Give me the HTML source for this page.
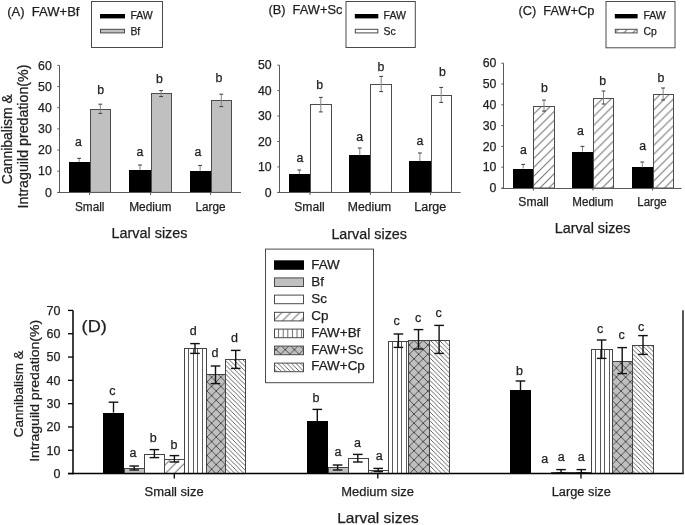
<!DOCTYPE html>
<html><head><meta charset="utf-8"><style>
html,body{margin:0;padding:0;background:#fff;}
svg{display:block;will-change:transform;}
text{font-family:"Liberation Sans", sans-serif;stroke:#1e1e1e;stroke-width:0.25px;}
</style></head><body>
<svg width="685" height="525" viewBox="0 0 685 525">
<rect width="685" height="525" fill="#fff"/>

<defs>
<pattern id="cp" patternUnits="userSpaceOnUse" width="8.9" height="8.9" x="7.0">
 <path d="M-1,1 L1,-1 M0,8.9 L8.9,0 M7.9,9.9 L9.9,7.9" stroke="#6e6e6e" stroke-width="1"/>
</pattern>
<pattern id="fcp" patternUnits="userSpaceOnUse" width="4.5" height="4.5">
 <path d="M-1,3.5 L1,5.5 M0,0 L4.5,4.5 M3.5,-1 L5.5,1" stroke="#404040" stroke-width="0.8"/>
</pattern>
<pattern id="fbf" patternUnits="userSpaceOnUse" width="4.6" height="10" x="0.3">
 <rect x="0" y="0" width="4.6" height="10" fill="#fff"/>
 <line x1="2.3" y1="0" x2="2.3" y2="10" stroke="#6a6a6a" stroke-width="1"/>
</pattern>
<pattern id="fsc" patternUnits="userSpaceOnUse" width="9.2" height="9.2">
 <rect x="0" y="0" width="9.2" height="9.2" fill="#c0c0c0"/>
 <path d="M0,0 L9.2,9.2 M0,9.2 L9.2,0" stroke="#303030" stroke-width="0.8"/>
</pattern>
</defs>

<rect x="69.00" y="162.00" width="21.00" height="30.40" fill="#000"/>
<rect x="90.50" y="109.50" width="20.00" height="82.90" fill="#c0c0c0" stroke="#4c4c4c" stroke-width="1"/>
<rect x="129.00" y="170.00" width="22.00" height="22.40" fill="#000"/>
<rect x="151.50" y="93.50" width="20.00" height="98.90" fill="#c0c0c0" stroke="#4c4c4c" stroke-width="1"/>
<rect x="190.00" y="171.00" width="21.00" height="21.40" fill="#000"/>
<rect x="211.50" y="100.50" width="20.00" height="91.90" fill="#c0c0c0" stroke="#4c4c4c" stroke-width="1"/>
<line x1="79.1" y1="158.3" x2="79.1" y2="162" stroke="#858585" stroke-width="1"/>
<line x1="77.19999999999999" y1="158.3" x2="81.0" y2="158.3" stroke="#3a3a3a" stroke-width="1"/>
<line x1="100.3" y1="104.2" x2="100.3" y2="113.4" stroke="#858585" stroke-width="1"/>
<line x1="98.39999999999999" y1="104.2" x2="102.2" y2="104.2" stroke="#3a3a3a" stroke-width="1"/>
<line x1="98.39999999999999" y1="113.4" x2="102.2" y2="113.4" stroke="#3a3a3a" stroke-width="1"/>
<line x1="140" y1="165" x2="140" y2="170" stroke="#858585" stroke-width="1"/>
<line x1="138.1" y1="165" x2="141.9" y2="165" stroke="#3a3a3a" stroke-width="1"/>
<line x1="161.1" y1="90.6" x2="161.1" y2="96.6" stroke="#858585" stroke-width="1"/>
<line x1="159.2" y1="90.6" x2="163.0" y2="90.6" stroke="#3a3a3a" stroke-width="1"/>
<line x1="159.2" y1="96.6" x2="163.0" y2="96.6" stroke="#3a3a3a" stroke-width="1"/>
<line x1="200.1" y1="165.4" x2="200.1" y2="171" stroke="#858585" stroke-width="1"/>
<line x1="198.2" y1="165.4" x2="202.0" y2="165.4" stroke="#3a3a3a" stroke-width="1"/>
<line x1="221.3" y1="94.2" x2="221.3" y2="106.6" stroke="#858585" stroke-width="1"/>
<line x1="219.4" y1="94.2" x2="223.20000000000002" y2="94.2" stroke="#3a3a3a" stroke-width="1"/>
<line x1="219.4" y1="106.6" x2="223.20000000000002" y2="106.6" stroke="#3a3a3a" stroke-width="1"/>
<line x1="59.5" y1="65.38000000000001" x2="59.5" y2="192.5" stroke="#5a5a5a" stroke-width="1"/>
<line x1="57.5" y1="192.5" x2="241" y2="192.5" stroke="#5a5a5a" stroke-width="1"/>
<line x1="57.3" y1="192.4" x2="59.5" y2="192.4" stroke="#5a5a5a" stroke-width="1"/>
<text x="51.8" y="196.6" font-size="12.3" text-anchor="end" fill="#1e1e1e">0</text>
<line x1="57.3" y1="171.23000000000002" x2="59.5" y2="171.23000000000002" stroke="#5a5a5a" stroke-width="1"/>
<text x="51.8" y="175.43" font-size="12.3" text-anchor="end" fill="#1e1e1e">10</text>
<line x1="57.3" y1="150.06" x2="59.5" y2="150.06" stroke="#5a5a5a" stroke-width="1"/>
<text x="51.8" y="154.26" font-size="12.3" text-anchor="end" fill="#1e1e1e">20</text>
<line x1="57.3" y1="128.89000000000001" x2="59.5" y2="128.89000000000001" stroke="#5a5a5a" stroke-width="1"/>
<text x="51.8" y="133.09" font-size="12.3" text-anchor="end" fill="#1e1e1e">30</text>
<line x1="57.3" y1="107.72" x2="59.5" y2="107.72" stroke="#5a5a5a" stroke-width="1"/>
<text x="51.8" y="111.92" font-size="12.3" text-anchor="end" fill="#1e1e1e">40</text>
<line x1="57.3" y1="86.55000000000001" x2="59.5" y2="86.55000000000001" stroke="#5a5a5a" stroke-width="1"/>
<text x="51.8" y="90.75000000000001" font-size="12.3" text-anchor="end" fill="#1e1e1e">50</text>
<line x1="57.3" y1="65.38000000000001" x2="59.5" y2="65.38000000000001" stroke="#5a5a5a" stroke-width="1"/>
<text x="51.8" y="69.58000000000001" font-size="12.3" text-anchor="end" fill="#1e1e1e">60</text>
<line x1="89.6" y1="192.4" x2="89.6" y2="195.0" stroke="#5a5a5a" stroke-width="1"/>
<line x1="150.6" y1="192.4" x2="150.6" y2="195.0" stroke="#5a5a5a" stroke-width="1"/>
<line x1="210.6" y1="192.4" x2="210.6" y2="195.0" stroke="#5a5a5a" stroke-width="1"/>
<text x="75" y="211" font-size="12" textLength="29.5" lengthAdjust="spacingAndGlyphs" fill="#1e1e1e">Small</text>
<text x="129.2" y="211" font-size="12" textLength="42.30000000000001" lengthAdjust="spacingAndGlyphs" fill="#1e1e1e">Medium</text>
<text x="195.4" y="211" font-size="12" textLength="30.099999999999994" lengthAdjust="spacingAndGlyphs" fill="#1e1e1e">Large</text>
<text x="111.5" y="238" font-size="14" textLength="76.0" lengthAdjust="spacingAndGlyphs" fill="#1e1e1e">Larval sizes</text>
<text x="78.3" y="146" font-size="12.3" text-anchor="middle" fill="#1e1e1e">a</text>
<text x="100.7" y="93.5" font-size="12.3" text-anchor="middle" fill="#1e1e1e">b</text>
<text x="139.8" y="156.4" font-size="12.3" text-anchor="middle" fill="#1e1e1e">a</text>
<text x="159.5" y="82.6" font-size="12.3" text-anchor="middle" fill="#1e1e1e">b</text>
<text x="197.8" y="156.4" font-size="12.3" text-anchor="middle" fill="#1e1e1e">a</text>
<text x="219" y="82" font-size="12.3" text-anchor="middle" fill="#1e1e1e">b</text>
<text x="7.2" y="15.6" font-size="13" textLength="72.3" lengthAdjust="spacingAndGlyphs" fill="#1e1e1e">(A)&#160; FAW+Bf</text>
<rect x="91.50" y="1.50" width="71.00" height="46.00" fill="none" stroke="#4a4a4a" stroke-width="1"/>
<rect x="100.00" y="14.00" width="25.00" height="4.40" fill="#000"/>
<rect x="100.50" y="29.30" width="24.00" height="3.60" fill="#c0c0c0" stroke="#4a4a4a" stroke-width="1"/>
<text x="130.4" y="19.1" font-size="10.4" textLength="22.4" lengthAdjust="spacingAndGlyphs" fill="#1e1e1e">FAW</text>
<text x="130.4" y="34.5" font-size="10.4" fill="#1e1e1e">Bf</text>
<rect x="289.00" y="174.00" width="21.00" height="18.40" fill="#000"/>
<rect x="310.50" y="104.50" width="21.00" height="87.90" fill="#fff" stroke="#4c4c4c" stroke-width="1"/>
<rect x="349.00" y="155.00" width="21.00" height="37.40" fill="#000"/>
<rect x="370.50" y="84.50" width="21.00" height="107.90" fill="#fff" stroke="#4c4c4c" stroke-width="1"/>
<rect x="409.00" y="161.00" width="22.00" height="31.40" fill="#000"/>
<rect x="431.50" y="95.50" width="20.00" height="96.90" fill="#fff" stroke="#4c4c4c" stroke-width="1"/>
<line x1="299.3" y1="170" x2="299.3" y2="174" stroke="#858585" stroke-width="1"/>
<line x1="297.40000000000003" y1="170" x2="301.2" y2="170" stroke="#3a3a3a" stroke-width="1"/>
<line x1="320.8" y1="97.4" x2="320.8" y2="111.9" stroke="#858585" stroke-width="1"/>
<line x1="318.90000000000003" y1="97.4" x2="322.7" y2="97.4" stroke="#3a3a3a" stroke-width="1"/>
<line x1="318.90000000000003" y1="111.9" x2="322.7" y2="111.9" stroke="#3a3a3a" stroke-width="1"/>
<line x1="359.8" y1="148" x2="359.8" y2="155.4" stroke="#858585" stroke-width="1"/>
<line x1="357.90000000000003" y1="148" x2="361.7" y2="148" stroke="#3a3a3a" stroke-width="1"/>
<line x1="381.2" y1="76.4" x2="381.2" y2="91.6" stroke="#858585" stroke-width="1"/>
<line x1="379.3" y1="76.4" x2="383.09999999999997" y2="76.4" stroke="#3a3a3a" stroke-width="1"/>
<line x1="379.3" y1="91.6" x2="383.09999999999997" y2="91.6" stroke="#3a3a3a" stroke-width="1"/>
<line x1="419.9" y1="153" x2="419.9" y2="161" stroke="#858585" stroke-width="1"/>
<line x1="418.0" y1="153" x2="421.79999999999995" y2="153" stroke="#3a3a3a" stroke-width="1"/>
<line x1="441.2" y1="87.4" x2="441.2" y2="102.4" stroke="#858585" stroke-width="1"/>
<line x1="439.3" y1="87.4" x2="443.09999999999997" y2="87.4" stroke="#3a3a3a" stroke-width="1"/>
<line x1="439.3" y1="102.4" x2="443.09999999999997" y2="102.4" stroke="#3a3a3a" stroke-width="1"/>
<line x1="279.5" y1="65.15" x2="279.5" y2="192.5" stroke="#5a5a5a" stroke-width="1"/>
<line x1="277.5" y1="192.5" x2="460.6" y2="192.5" stroke="#5a5a5a" stroke-width="1"/>
<line x1="277.3" y1="192.4" x2="279.5" y2="192.4" stroke="#5a5a5a" stroke-width="1"/>
<text x="271.6" y="196.6" font-size="12.3" text-anchor="end" fill="#1e1e1e">0</text>
<line x1="277.3" y1="166.95000000000002" x2="279.5" y2="166.95000000000002" stroke="#5a5a5a" stroke-width="1"/>
<text x="271.6" y="171.15" font-size="12.3" text-anchor="end" fill="#1e1e1e">10</text>
<line x1="277.3" y1="141.5" x2="279.5" y2="141.5" stroke="#5a5a5a" stroke-width="1"/>
<text x="271.6" y="145.7" font-size="12.3" text-anchor="end" fill="#1e1e1e">20</text>
<line x1="277.3" y1="116.05000000000001" x2="279.5" y2="116.05000000000001" stroke="#5a5a5a" stroke-width="1"/>
<text x="271.6" y="120.25000000000001" font-size="12.3" text-anchor="end" fill="#1e1e1e">30</text>
<line x1="277.3" y1="90.60000000000001" x2="279.5" y2="90.60000000000001" stroke="#5a5a5a" stroke-width="1"/>
<text x="271.6" y="94.80000000000001" font-size="12.3" text-anchor="end" fill="#1e1e1e">40</text>
<line x1="277.3" y1="65.15" x2="279.5" y2="65.15" stroke="#5a5a5a" stroke-width="1"/>
<text x="271.6" y="69.35000000000001" font-size="12.3" text-anchor="end" fill="#1e1e1e">50</text>
<line x1="310" y1="192.4" x2="310" y2="195.0" stroke="#5a5a5a" stroke-width="1"/>
<line x1="370.4" y1="192.4" x2="370.4" y2="195.0" stroke="#5a5a5a" stroke-width="1"/>
<line x1="430.6" y1="192.4" x2="430.6" y2="195.0" stroke="#5a5a5a" stroke-width="1"/>
<text x="294.2" y="211.4" font-size="12" textLength="30.400000000000034" lengthAdjust="spacingAndGlyphs" fill="#1e1e1e">Small</text>
<text x="347.8" y="211.4" font-size="12" textLength="43.39999999999998" lengthAdjust="spacingAndGlyphs" fill="#1e1e1e">Medium</text>
<text x="414.3" y="211.4" font-size="12" textLength="32.0" lengthAdjust="spacingAndGlyphs" fill="#1e1e1e">Large</text>
<text x="331.4" y="238.6" font-size="14" textLength="75.60000000000002" lengthAdjust="spacingAndGlyphs" fill="#1e1e1e">Larval sizes</text>
<text x="299.8" y="162" font-size="12.3" text-anchor="middle" fill="#1e1e1e">a</text>
<text x="319.6" y="89.4" font-size="12.3" text-anchor="middle" fill="#1e1e1e">b</text>
<text x="359.7" y="140.6" font-size="12.3" text-anchor="middle" fill="#1e1e1e">a</text>
<text x="381" y="71" font-size="12.3" text-anchor="middle" fill="#1e1e1e">b</text>
<text x="420" y="145" font-size="12.3" text-anchor="middle" fill="#1e1e1e">a</text>
<text x="442.4" y="75.6" font-size="12.3" text-anchor="middle" fill="#1e1e1e">b</text>
<text x="268.4" y="13.8" font-size="13" textLength="74.0" lengthAdjust="spacingAndGlyphs" fill="#1e1e1e">(B)&#160; FAW+Sc</text>
<rect x="346.00" y="1.50" width="69.30" height="46.00" fill="none" stroke="#4a4a4a" stroke-width="1"/>
<rect x="354.80" y="14.00" width="23.50" height="4.40" fill="#000"/>
<rect x="355.30" y="29.30" width="22.50" height="3.60" fill="#fff" stroke="#4a4a4a" stroke-width="1"/>
<text x="383.6" y="18.8" font-size="10.4" textLength="22.4" lengthAdjust="spacingAndGlyphs" fill="#1e1e1e">FAW</text>
<text x="383.6" y="34.5" font-size="10.4" fill="#1e1e1e">Sc</text>
<rect x="513.00" y="169.00" width="20.00" height="19.00" fill="#000"/>
<rect x="533.50" y="106.50" width="21.00" height="81.50" fill="url(#cp)" stroke="#4c4c4c" stroke-width="1"/>
<rect x="572.00" y="152.00" width="21.00" height="36.00" fill="#000"/>
<rect x="593.50" y="98.50" width="20.00" height="89.50" fill="url(#cp)" stroke="#4c4c4c" stroke-width="1"/>
<rect x="632.00" y="167.00" width="21.00" height="21.00" fill="#000"/>
<rect x="653.50" y="94.50" width="20.00" height="93.50" fill="url(#cp)" stroke="#4c4c4c" stroke-width="1"/>
<line x1="523.2" y1="164.4" x2="523.2" y2="168.6" stroke="#858585" stroke-width="1"/>
<line x1="521.3000000000001" y1="164.4" x2="525.1" y2="164.4" stroke="#3a3a3a" stroke-width="1"/>
<line x1="544" y1="100.1" x2="544" y2="111.1" stroke="#858585" stroke-width="1"/>
<line x1="542.1" y1="100.1" x2="545.9" y2="100.1" stroke="#3a3a3a" stroke-width="1"/>
<line x1="542.1" y1="111.1" x2="545.9" y2="111.1" stroke="#3a3a3a" stroke-width="1"/>
<line x1="582.5" y1="146.4" x2="582.5" y2="151.6" stroke="#858585" stroke-width="1"/>
<line x1="580.6" y1="146.4" x2="584.4" y2="146.4" stroke="#3a3a3a" stroke-width="1"/>
<line x1="603.5" y1="91" x2="603.5" y2="104" stroke="#858585" stroke-width="1"/>
<line x1="601.6" y1="91" x2="605.4" y2="91" stroke="#3a3a3a" stroke-width="1"/>
<line x1="601.6" y1="104" x2="605.4" y2="104" stroke="#3a3a3a" stroke-width="1"/>
<line x1="642.3" y1="162" x2="642.3" y2="167.4" stroke="#858585" stroke-width="1"/>
<line x1="640.4" y1="162" x2="644.1999999999999" y2="162" stroke="#3a3a3a" stroke-width="1"/>
<line x1="663.1" y1="88" x2="663.1" y2="100" stroke="#858585" stroke-width="1"/>
<line x1="661.2" y1="88" x2="665.0" y2="88" stroke="#3a3a3a" stroke-width="1"/>
<line x1="661.2" y1="100" x2="665.0" y2="100" stroke="#3a3a3a" stroke-width="1"/>
<line x1="503.5" y1="63.19999999999999" x2="503.5" y2="188.5" stroke="#5a5a5a" stroke-width="1"/>
<line x1="501.5" y1="188.5" x2="681.6" y2="188.5" stroke="#5a5a5a" stroke-width="1"/>
<line x1="501.3" y1="188.0" x2="503.5" y2="188.0" stroke="#5a5a5a" stroke-width="1"/>
<text x="496.4" y="192.2" font-size="12.3" text-anchor="end" fill="#1e1e1e">0</text>
<line x1="501.3" y1="167.2" x2="503.5" y2="167.2" stroke="#5a5a5a" stroke-width="1"/>
<text x="496.4" y="171.39999999999998" font-size="12.3" text-anchor="end" fill="#1e1e1e">10</text>
<line x1="501.3" y1="146.4" x2="503.5" y2="146.4" stroke="#5a5a5a" stroke-width="1"/>
<text x="496.4" y="150.6" font-size="12.3" text-anchor="end" fill="#1e1e1e">20</text>
<line x1="501.3" y1="125.6" x2="503.5" y2="125.6" stroke="#5a5a5a" stroke-width="1"/>
<text x="496.4" y="129.79999999999998" font-size="12.3" text-anchor="end" fill="#1e1e1e">30</text>
<line x1="501.3" y1="104.8" x2="503.5" y2="104.8" stroke="#5a5a5a" stroke-width="1"/>
<text x="496.4" y="109.0" font-size="12.3" text-anchor="end" fill="#1e1e1e">40</text>
<line x1="501.3" y1="84.0" x2="503.5" y2="84.0" stroke="#5a5a5a" stroke-width="1"/>
<text x="496.4" y="88.2" font-size="12.3" text-anchor="end" fill="#1e1e1e">50</text>
<line x1="501.3" y1="63.19999999999999" x2="503.5" y2="63.19999999999999" stroke="#5a5a5a" stroke-width="1"/>
<text x="496.4" y="67.39999999999999" font-size="12.3" text-anchor="end" fill="#1e1e1e">60</text>
<line x1="533.4" y1="188" x2="533.4" y2="190.6" stroke="#5a5a5a" stroke-width="1"/>
<line x1="593" y1="188" x2="593" y2="190.6" stroke="#5a5a5a" stroke-width="1"/>
<line x1="652.6" y1="188" x2="652.6" y2="190.6" stroke="#5a5a5a" stroke-width="1"/>
<text x="518.3" y="206.4" font-size="12" textLength="30.300000000000068" lengthAdjust="spacingAndGlyphs" fill="#1e1e1e">Small</text>
<text x="572.3" y="206.4" font-size="12" textLength="41.200000000000045" lengthAdjust="spacingAndGlyphs" fill="#1e1e1e">Medium</text>
<text x="637.3" y="206.4" font-size="12" textLength="29.40000000000009" lengthAdjust="spacingAndGlyphs" fill="#1e1e1e">Large</text>
<text x="554.8" y="232.6" font-size="14" textLength="75.70000000000005" lengthAdjust="spacingAndGlyphs" fill="#1e1e1e">Larval sizes</text>
<text x="523.5" y="153.6" font-size="12.3" text-anchor="middle" fill="#1e1e1e">a</text>
<text x="544.3" y="92" font-size="12.3" text-anchor="middle" fill="#1e1e1e">b</text>
<text x="580.4" y="134.6" font-size="12.3" text-anchor="middle" fill="#1e1e1e">a</text>
<text x="602.6" y="85" font-size="12.3" text-anchor="middle" fill="#1e1e1e">b</text>
<text x="642.7" y="150.4" font-size="12.3" text-anchor="middle" fill="#1e1e1e">a</text>
<text x="661" y="82" font-size="12.3" text-anchor="middle" fill="#1e1e1e">b</text>
<text x="518.4" y="15" font-size="13" textLength="76.0" lengthAdjust="spacingAndGlyphs" fill="#1e1e1e">(C)&#160; FAW+Cp</text>
<rect x="606.00" y="1.50" width="69.00" height="46.30" fill="none" stroke="#4a4a4a" stroke-width="1"/>
<rect x="614.80" y="14.00" width="22.80" height="4.40" fill="#000"/>
<rect x="615.30" y="29.30" width="21.80" height="3.60" fill="url(#cp)" stroke="#4a4a4a" stroke-width="1"/>
<text x="643.4" y="18.8" font-size="10.4" textLength="22.4" lengthAdjust="spacingAndGlyphs" fill="#1e1e1e">FAW</text>
<text x="643.4" y="34.5" font-size="10.4" fill="#1e1e1e">Cp</text>
<rect x="103.00" y="413.00" width="21.00" height="60.60" fill="#000"/>
<rect x="124.50" y="468.50" width="20.00" height="5.10" fill="#c0c0c0" stroke="#444" stroke-width="1"/>
<rect x="144.50" y="454.50" width="20.00" height="19.10" fill="#fff" stroke="#444" stroke-width="1"/>
<rect x="164.50" y="459.50" width="20.00" height="14.10" fill="url(#cp)" stroke="#444" stroke-width="1"/>
<rect x="184.50" y="348.50" width="22.00" height="125.10" fill="#fff" stroke="#444" stroke-width="1"/>
<line x1="188.5" y1="349" x2="188.5" y2="473.6" stroke="#5a5a5a" stroke-width="1"/>
<line x1="193.5" y1="349" x2="193.5" y2="473.6" stroke="#5a5a5a" stroke-width="1"/>
<line x1="197.5" y1="349" x2="197.5" y2="473.6" stroke="#5a5a5a" stroke-width="1"/>
<line x1="202.5" y1="349" x2="202.5" y2="473.6" stroke="#5a5a5a" stroke-width="1"/>
<rect x="206.50" y="374.50" width="19.00" height="99.10" fill="url(#fsc)" stroke="#444" stroke-width="1"/>
<rect x="225.50" y="359.50" width="20.00" height="114.10" fill="url(#fcp)" stroke="#444" stroke-width="1"/>
<rect x="307.00" y="421.00" width="21.00" height="52.60" fill="#000"/>
<rect x="328.50" y="467.50" width="20.00" height="6.10" fill="#c0c0c0" stroke="#444" stroke-width="1"/>
<rect x="348.50" y="458.50" width="20.00" height="15.10" fill="#fff" stroke="#444" stroke-width="1"/>
<rect x="368.50" y="470.50" width="20.00" height="3.10" fill="url(#cp)" stroke="#444" stroke-width="1"/>
<rect x="388.50" y="341.50" width="20.00" height="132.10" fill="#fff" stroke="#444" stroke-width="1"/>
<line x1="392.5" y1="342" x2="392.5" y2="473.6" stroke="#5a5a5a" stroke-width="1"/>
<line x1="397.5" y1="342" x2="397.5" y2="473.6" stroke="#5a5a5a" stroke-width="1"/>
<line x1="401.5" y1="342" x2="401.5" y2="473.6" stroke="#5a5a5a" stroke-width="1"/>
<line x1="406.5" y1="342" x2="406.5" y2="473.6" stroke="#5a5a5a" stroke-width="1"/>
<rect x="408.50" y="340.50" width="21.00" height="133.10" fill="url(#fsc)" stroke="#444" stroke-width="1"/>
<rect x="429.50" y="340.50" width="20.00" height="133.10" fill="url(#fcp)" stroke="#444" stroke-width="1"/>
<rect x="510.00" y="390.00" width="21.00" height="83.60" fill="#000"/>
<rect x="551.50" y="472.50" width="20.00" height="1.10" fill="#fff" stroke="#444" stroke-width="1"/>
<rect x="571.50" y="472.50" width="20.00" height="1.10" fill="url(#cp)" stroke="#444" stroke-width="1"/>
<rect x="591.50" y="349.50" width="21.00" height="124.10" fill="#fff" stroke="#444" stroke-width="1"/>
<line x1="595.5" y1="350" x2="595.5" y2="473.6" stroke="#5a5a5a" stroke-width="1"/>
<line x1="600.5" y1="350" x2="600.5" y2="473.6" stroke="#5a5a5a" stroke-width="1"/>
<line x1="604.5" y1="350" x2="604.5" y2="473.6" stroke="#5a5a5a" stroke-width="1"/>
<line x1="609.5" y1="350" x2="609.5" y2="473.6" stroke="#5a5a5a" stroke-width="1"/>
<rect x="612.50" y="361.50" width="20.00" height="112.10" fill="url(#fsc)" stroke="#444" stroke-width="1"/>
<rect x="632.50" y="345.50" width="21.00" height="128.10" fill="url(#fcp)" stroke="#444" stroke-width="1"/>
<line x1="113.5" y1="402.2" x2="113.5" y2="412.6" stroke="#111" stroke-width="1.4"/>
<line x1="108.7" y1="402.2" x2="118.3" y2="402.2" stroke="#111" stroke-width="1.4"/>
<line x1="134.2" y1="466" x2="134.2" y2="470" stroke="#111" stroke-width="1.4"/>
<line x1="129.39999999999998" y1="466" x2="139.0" y2="466" stroke="#111" stroke-width="1.4"/>
<line x1="129.39999999999998" y1="470" x2="139.0" y2="470" stroke="#111" stroke-width="1.4"/>
<line x1="154.4" y1="449.6" x2="154.4" y2="457.6" stroke="#111" stroke-width="1.4"/>
<line x1="149.6" y1="449.6" x2="159.20000000000002" y2="449.6" stroke="#111" stroke-width="1.4"/>
<line x1="149.6" y1="457.6" x2="159.20000000000002" y2="457.6" stroke="#111" stroke-width="1.4"/>
<line x1="174.4" y1="455.6" x2="174.4" y2="462" stroke="#111" stroke-width="1.4"/>
<line x1="169.6" y1="455.6" x2="179.20000000000002" y2="455.6" stroke="#111" stroke-width="1.4"/>
<line x1="169.6" y1="462" x2="179.20000000000002" y2="462" stroke="#111" stroke-width="1.4"/>
<line x1="195.0" y1="343.6" x2="195.0" y2="353.4" stroke="#111" stroke-width="1.4"/>
<line x1="190.2" y1="343.6" x2="199.8" y2="343.6" stroke="#111" stroke-width="1.4"/>
<line x1="190.2" y1="353.4" x2="199.8" y2="353.4" stroke="#111" stroke-width="1.4"/>
<line x1="215.5" y1="366" x2="215.5" y2="383.6" stroke="#111" stroke-width="1.4"/>
<line x1="210.7" y1="366" x2="220.3" y2="366" stroke="#111" stroke-width="1.4"/>
<line x1="210.7" y1="383.6" x2="220.3" y2="383.6" stroke="#111" stroke-width="1.4"/>
<line x1="235.7" y1="350.4" x2="235.7" y2="368.4" stroke="#111" stroke-width="1.4"/>
<line x1="230.89999999999998" y1="350.4" x2="240.5" y2="350.4" stroke="#111" stroke-width="1.4"/>
<line x1="230.89999999999998" y1="368.4" x2="240.5" y2="368.4" stroke="#111" stroke-width="1.4"/>
<line x1="317.3" y1="409.4" x2="317.3" y2="421" stroke="#111" stroke-width="1.4"/>
<line x1="312.5" y1="409.4" x2="322.1" y2="409.4" stroke="#111" stroke-width="1.4"/>
<line x1="337.6" y1="465" x2="337.6" y2="470" stroke="#111" stroke-width="1.4"/>
<line x1="332.8" y1="465" x2="342.40000000000003" y2="465" stroke="#111" stroke-width="1.4"/>
<line x1="332.8" y1="470" x2="342.40000000000003" y2="470" stroke="#111" stroke-width="1.4"/>
<line x1="357.8" y1="454.4" x2="357.8" y2="462" stroke="#111" stroke-width="1.4"/>
<line x1="353.0" y1="454.4" x2="362.6" y2="454.4" stroke="#111" stroke-width="1.4"/>
<line x1="353.0" y1="462" x2="362.6" y2="462" stroke="#111" stroke-width="1.4"/>
<line x1="378.2" y1="468.4" x2="378.2" y2="471.6" stroke="#111" stroke-width="1.4"/>
<line x1="373.4" y1="468.4" x2="383.0" y2="468.4" stroke="#111" stroke-width="1.4"/>
<line x1="373.4" y1="471.6" x2="383.0" y2="471.6" stroke="#111" stroke-width="1.4"/>
<line x1="398.4" y1="334" x2="398.4" y2="347.4" stroke="#111" stroke-width="1.4"/>
<line x1="393.59999999999997" y1="334" x2="403.2" y2="334" stroke="#111" stroke-width="1.4"/>
<line x1="393.59999999999997" y1="347.4" x2="403.2" y2="347.4" stroke="#111" stroke-width="1.4"/>
<line x1="418.5" y1="329.6" x2="418.5" y2="349" stroke="#111" stroke-width="1.4"/>
<line x1="413.7" y1="329.6" x2="423.3" y2="329.6" stroke="#111" stroke-width="1.4"/>
<line x1="413.7" y1="349" x2="423.3" y2="349" stroke="#111" stroke-width="1.4"/>
<line x1="439.1" y1="325.4" x2="439.1" y2="353.4" stroke="#111" stroke-width="1.4"/>
<line x1="434.3" y1="325.4" x2="443.90000000000003" y2="325.4" stroke="#111" stroke-width="1.4"/>
<line x1="434.3" y1="353.4" x2="443.90000000000003" y2="353.4" stroke="#111" stroke-width="1.4"/>
<line x1="520.5" y1="381" x2="520.5" y2="390.4" stroke="#111" stroke-width="1.4"/>
<line x1="515.7" y1="381" x2="525.3" y2="381" stroke="#111" stroke-width="1.4"/>
<line x1="561.05" y1="469.6" x2="561.05" y2="473" stroke="#111" stroke-width="1.4"/>
<line x1="556.25" y1="469.6" x2="565.8499999999999" y2="469.6" stroke="#111" stroke-width="1.4"/>
<line x1="556.25" y1="473" x2="565.8499999999999" y2="473" stroke="#111" stroke-width="1.4"/>
<line x1="581.3" y1="469.6" x2="581.3" y2="473" stroke="#111" stroke-width="1.4"/>
<line x1="576.5" y1="469.6" x2="586.0999999999999" y2="469.6" stroke="#111" stroke-width="1.4"/>
<line x1="576.5" y1="473" x2="586.0999999999999" y2="473" stroke="#111" stroke-width="1.4"/>
<line x1="601.65" y1="340" x2="601.65" y2="358.4" stroke="#111" stroke-width="1.4"/>
<line x1="596.85" y1="340" x2="606.4499999999999" y2="340" stroke="#111" stroke-width="1.4"/>
<line x1="596.85" y1="358.4" x2="606.4499999999999" y2="358.4" stroke="#111" stroke-width="1.4"/>
<line x1="622.2" y1="347.6" x2="622.2" y2="373.6" stroke="#111" stroke-width="1.4"/>
<line x1="617.4000000000001" y1="347.6" x2="627.0" y2="347.6" stroke="#111" stroke-width="1.4"/>
<line x1="617.4000000000001" y1="373.6" x2="627.0" y2="373.6" stroke="#111" stroke-width="1.4"/>
<line x1="643.0" y1="335.6" x2="643.0" y2="354.4" stroke="#111" stroke-width="1.4"/>
<line x1="638.2" y1="335.6" x2="647.8" y2="335.6" stroke="#111" stroke-width="1.4"/>
<line x1="638.2" y1="354.4" x2="647.8" y2="354.4" stroke="#111" stroke-width="1.4"/>
<line x1="73" y1="310.4" x2="73" y2="474.3" stroke="#000" stroke-width="1.5"/>
<line x1="68" y1="473.6" x2="683.8" y2="473.6" stroke="#000" stroke-width="1.5"/>
<line x1="683" y1="310.3" x2="683" y2="473.6" stroke="#444" stroke-width="1.8"/>
<line x1="68" y1="473.6" x2="73" y2="473.6" stroke="#000" stroke-width="1.3"/>
<text x="60.5" y="477.90000000000003" font-size="12.5" text-anchor="end" fill="#1e1e1e">0</text>
<line x1="68" y1="450.29" x2="73" y2="450.29" stroke="#000" stroke-width="1.3"/>
<text x="60.5" y="454.59000000000003" font-size="12.5" text-anchor="end" fill="#1e1e1e">10</text>
<line x1="68" y1="426.98" x2="73" y2="426.98" stroke="#000" stroke-width="1.3"/>
<text x="60.5" y="431.28000000000003" font-size="12.5" text-anchor="end" fill="#1e1e1e">20</text>
<line x1="68" y1="403.67" x2="73" y2="403.67" stroke="#000" stroke-width="1.3"/>
<text x="60.5" y="407.97" font-size="12.5" text-anchor="end" fill="#1e1e1e">30</text>
<line x1="68" y1="380.36" x2="73" y2="380.36" stroke="#000" stroke-width="1.3"/>
<text x="60.5" y="384.66" font-size="12.5" text-anchor="end" fill="#1e1e1e">40</text>
<line x1="68" y1="357.05" x2="73" y2="357.05" stroke="#000" stroke-width="1.3"/>
<text x="60.5" y="361.35" font-size="12.5" text-anchor="end" fill="#1e1e1e">50</text>
<line x1="68" y1="333.74" x2="73" y2="333.74" stroke="#000" stroke-width="1.3"/>
<text x="60.5" y="338.04" font-size="12.5" text-anchor="end" fill="#1e1e1e">60</text>
<line x1="68" y1="310.43000000000006" x2="73" y2="310.43000000000006" stroke="#000" stroke-width="1.3"/>
<text x="60.5" y="314.7300000000001" font-size="12.5" text-anchor="end" fill="#1e1e1e">70</text>
<line x1="174.3" y1="473.6" x2="174.3" y2="478.40000000000003" stroke="#000" stroke-width="1.3"/>
<line x1="377.8" y1="473.6" x2="377.8" y2="478.40000000000003" stroke="#000" stroke-width="1.3"/>
<line x1="581" y1="473.6" x2="581" y2="478.40000000000003" stroke="#000" stroke-width="1.3"/>
<text x="112.4" y="395" font-size="12.5" text-anchor="middle" fill="#1e1e1e">c</text>
<text x="133" y="457" font-size="12.5" text-anchor="middle" fill="#1e1e1e">a</text>
<text x="153.2" y="442.4" font-size="12.5" text-anchor="middle" fill="#1e1e1e">b</text>
<text x="174" y="449" font-size="12.5" text-anchor="middle" fill="#1e1e1e">b</text>
<text x="193.2" y="335" font-size="12.5" text-anchor="middle" fill="#1e1e1e">d</text>
<text x="215" y="356.6" font-size="12.5" text-anchor="middle" fill="#1e1e1e">d</text>
<text x="234.4" y="342" font-size="12.5" text-anchor="middle" fill="#1e1e1e">d</text>
<text x="316" y="402" font-size="12.5" text-anchor="middle" fill="#1e1e1e">b</text>
<text x="338" y="456" font-size="12.5" text-anchor="middle" fill="#1e1e1e">a</text>
<text x="357.4" y="447" font-size="12.5" text-anchor="middle" fill="#1e1e1e">a</text>
<text x="379.2" y="460.4" font-size="12.5" text-anchor="middle" fill="#1e1e1e">a</text>
<text x="396.5" y="325" font-size="12.5" text-anchor="middle" fill="#1e1e1e">c</text>
<text x="418" y="322" font-size="12.5" text-anchor="middle" fill="#1e1e1e">c</text>
<text x="438.5" y="317" font-size="12.5" text-anchor="middle" fill="#1e1e1e">c</text>
<text x="519.6" y="375" font-size="12.5" text-anchor="middle" fill="#1e1e1e">b</text>
<text x="544.7" y="462.6" font-size="12.5" text-anchor="middle" fill="#1e1e1e">a</text>
<text x="561.2" y="461.4" font-size="12.5" text-anchor="middle" fill="#1e1e1e">a</text>
<text x="581.3" y="461.4" font-size="12.5" text-anchor="middle" fill="#1e1e1e">a</text>
<text x="600.2" y="333" font-size="12.5" text-anchor="middle" fill="#1e1e1e">c</text>
<text x="621.6" y="338.6" font-size="12.5" text-anchor="middle" fill="#1e1e1e">c</text>
<text x="641" y="330.6" font-size="12.5" text-anchor="middle" fill="#1e1e1e">c</text>
<text x="144.6" y="496.2" font-size="12.5" textLength="59" lengthAdjust="spacingAndGlyphs" fill="#1e1e1e">Small size</text>
<text x="341.3" y="496" font-size="12.5" textLength="72.6" lengthAdjust="spacingAndGlyphs" fill="#1e1e1e">Medium size</text>
<text x="551.7" y="496" font-size="12.5" textLength="59.2" lengthAdjust="spacingAndGlyphs" fill="#1e1e1e">Large size</text>
<text x="337.2" y="522.6" font-size="14.5" textLength="81.6" lengthAdjust="spacingAndGlyphs" fill="#1e1e1e">Larval sizes</text>
<text x="81.6" y="331.9" font-size="17.4" textLength="25.2" lengthAdjust="spacingAndGlyphs" fill="#1e1e1e">(D)</text>
<rect x="265.50" y="249.10" width="108.00" height="133.60" fill="none" stroke="#4a4a4a" stroke-width="1"/>
<rect x="274.00" y="260.30" width="30.00" height="9.50" fill="#000"/>
<text x="311.2" y="269.0" font-size="12.8" textLength="28.62" lengthAdjust="spacingAndGlyphs" fill="#1e1e1e">FAW</text>
<rect x="274.50" y="277.90" width="29.00" height="8.60" fill="#c0c0c0" stroke="#4a4a4a" stroke-width="1"/>
<text x="311.2" y="285.9" font-size="12.8" textLength="12.7" lengthAdjust="spacingAndGlyphs" fill="#1e1e1e">Bf</text>
<rect x="274.50" y="295.10" width="29.00" height="8.60" fill="#fff" stroke="#4a4a4a" stroke-width="1"/>
<text x="311.2" y="302.8" font-size="12.8" textLength="15.68" lengthAdjust="spacingAndGlyphs" fill="#1e1e1e">Sc</text>
<rect x="274.50" y="312.30" width="29.00" height="8.60" fill="url(#cp)" stroke="#4a4a4a" stroke-width="1"/>
<text x="311.2" y="319.7" font-size="12.8" textLength="17.18" lengthAdjust="spacingAndGlyphs" fill="#1e1e1e">Cp</text>
<rect x="274.50" y="329.10" width="29.00" height="8.60" fill="url(#fbf)" stroke="#4a4a4a" stroke-width="1"/>
<text x="311.2" y="336.6" font-size="12.8" textLength="49.17" lengthAdjust="spacingAndGlyphs" fill="#1e1e1e">FAW+Bf</text>
<rect x="274.50" y="346.10" width="29.00" height="8.60" fill="url(#fsc)" stroke="#4a4a4a" stroke-width="1"/>
<text x="311.2" y="353.5" font-size="12.8" textLength="52.15" lengthAdjust="spacingAndGlyphs" fill="#1e1e1e">FAW+Sc</text>
<rect x="274.50" y="363.10" width="29.00" height="8.60" fill="url(#fcp)" stroke="#4a4a4a" stroke-width="1"/>
<text x="311.2" y="370.4" font-size="12.8" textLength="53.65" lengthAdjust="spacingAndGlyphs" fill="#1e1e1e">FAW+Cp</text>
<text transform="translate(12.1,139.2) rotate(-90)" font-size="13.9" text-anchor="middle" textLength="90.0" lengthAdjust="spacingAndGlyphs" fill="#1e1e1e">Cannibalism &amp;</text>
<text transform="translate(27.7,136.5) rotate(-90)" font-size="13.9" text-anchor="middle" textLength="143.9" lengthAdjust="spacingAndGlyphs" fill="#1e1e1e">Intraguild predation(%)</text>
<text transform="translate(22.9,393.8) rotate(-90)" font-size="13.6" text-anchor="middle" textLength="86.8" lengthAdjust="spacingAndGlyphs" fill="#1e1e1e">Cannibalism &amp;</text>
<text transform="translate(38.5,390.8) rotate(-90)" font-size="13.6" text-anchor="middle" textLength="142.0" lengthAdjust="spacingAndGlyphs" fill="#1e1e1e">Intraguild predation(%)</text>
</svg>
</body></html>
